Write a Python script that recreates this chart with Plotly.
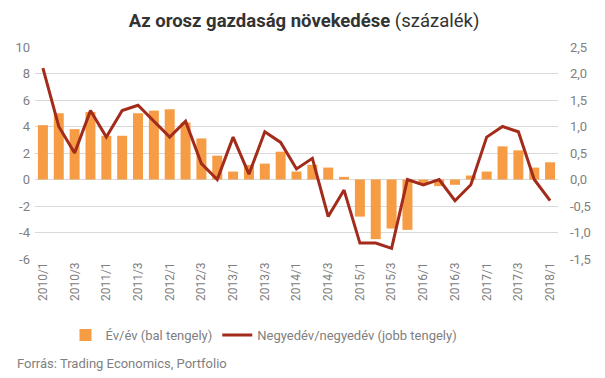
import plotly.graph_objects as go

quarters = [f"{y}/{q}" for y in range(2010, 2019) for q in range(1, 5)][:33]
yoy = [4.1, 5.0, 3.8, 5.1, 3.3, 3.3, 5.0, 5.2, 5.3, 4.3, 3.1, 1.8,
       0.6, 1.1, 1.2, 2.1, 0.6, 1.1, 0.9, 0.2, -2.8, -4.5, -3.7, -3.8,
       -0.3, -0.5, -0.4, 0.3, 0.6, 2.5, 2.2, 0.9, 1.3]
qoq = [2.1, 1.0, 0.5, 1.3, 0.8, 1.3, 1.4, 1.1, 0.8, 1.1, 0.3, 0.0,
       0.8, 0.1, 0.9, 0.7, 0.2, 0.4, -0.7, -0.2, -1.2, -1.2, -1.3, 0.0,
       -0.1, 0.0, -0.4, -0.1, 0.8, 1.0, 0.9, 0.0, -0.4]
x_ticks = quarters[::2]
left_ticks = [-6, -4, -2, 0, 2, 4, 6, 8, 10]
left_labels = ["-6", "-4", "-2", "0", "2", "4", "6", "8", "10"]
right_ticks = [-1.5, -1.0, -0.5, 0.0, 0.5, 1.0, 1.5, 2.0, 2.5]
right_labels = ["-1,5", "-1,0", "-0,5", "0,0", "0,5", "1,0", "1,5", "2,0", "2,5"]

BAR = "#F69C45"
LINE = "#A32B1B"
GREY = "#808080"
FONT = "Roboto"

# page body has an 8px margin, so the figure is sized/positioned to compensate
W, H = 597, 370
L, R, T, B = 27, 47, 39, 119
PW, PH = W - L - R, H - T - B

fig = go.Figure()
fig.add_trace(go.Bar(x=quarters, y=yoy, name="Év/év (bal tengely)",
                     marker=dict(color=BAR, line=dict(width=0)), yaxis="y"))
fig.add_trace(go.Scatter(x=quarters, y=qoq, name="Negyedév/negyedév (jobb tengely)",
                         mode="lines", line=dict(color=LINE, width=3), yaxis="y2"))

fig.update_layout(
    width=W, height=H,
    margin=dict(l=L, r=R, t=T, b=B, pad=0, autoexpand=False),
    paper_bgcolor="white", plot_bgcolor="white",
    font=dict(family=FONT, color=GREY, size=12),
    bargap=0.37,
    showlegend=True,
    title=dict(text="<b>Az orosz gazdaság növekedése</b> (százalék)",
               x=(296 - L) / PW, xref="paper", xanchor="center",
               y=1 - 13 / H, yanchor="middle",
               font=dict(family=FONT, size=18.5, color="#333333")),
    xaxis=dict(type="category", tickmode="array", tickvals=x_ticks, ticktext=x_ticks,
               tickangle=-90, showgrid=False, showline=False, ticks="",
               tickfont=dict(size=12, color=GREY), range=[-0.5, 32.5],
               automargin=False),
    yaxis=dict(range=[-6, 10], tickmode="array", tickvals=left_ticks, ticktext=left_labels,
               showgrid=True, gridcolor="#D9D9D9", gridwidth=1, zeroline=False,
               showline=False, ticks="", ticklabelstandoff=4, automargin=False,
               tickfont=dict(size=13, color=GREY)),
    yaxis2=dict(range=[-1.5, 2.5], overlaying="y", side="right", tickmode="array",
                tickvals=right_ticks, ticktext=right_labels, showgrid=False,
                zeroline=False, showline=False, ticks="", ticklabelstandoff=11,
                automargin=False, tickfont=dict(size=13, color=GREY)),
    legend=dict(orientation="h", x=(256 - L) / PW, xanchor="center",
                y=-(327 - (H - B)) / PH, yanchor="middle",
                font=dict(size=13, color=GREY), bgcolor="rgba(0,0,0,0)",
                itemwidth=30, tracegroupgap=0),
    annotations=[dict(text="Forrás: Trading Economics, Portfolio", xref="paper", yref="paper",
                      x=(7 - L) / PW, xanchor="left", y=-(355 - (H - B)) / PH, yanchor="middle",
                      showarrow=False, font=dict(size=13, color=GREY))],
)

fig.write_html("out.html")
